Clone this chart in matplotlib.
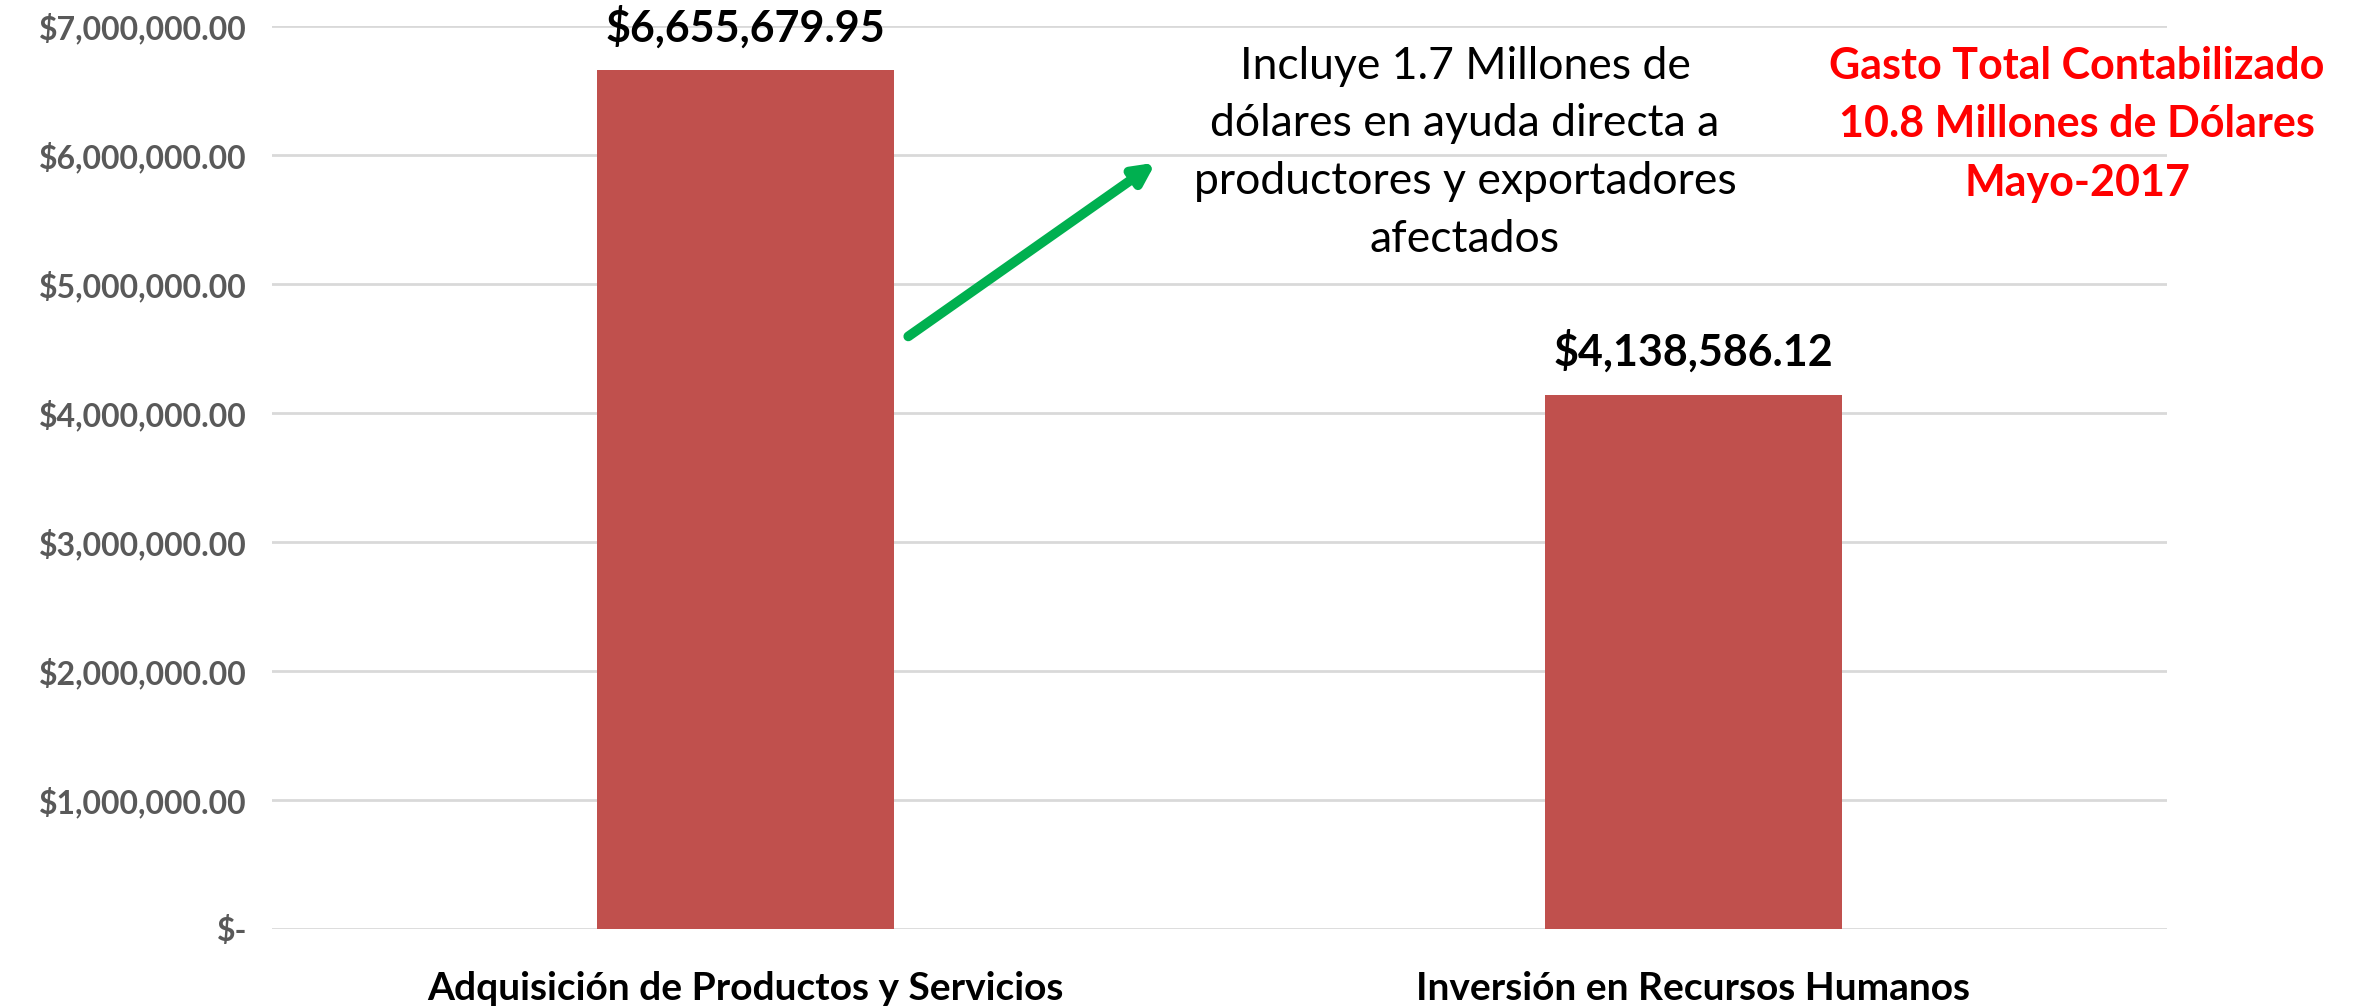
import matplotlib
matplotlib.use("Agg")
import matplotlib.pyplot as plt
from matplotlib.ticker import FuncFormatter

categories = ["Adquisición de Productos y Servicios", "Inversión en Recursos Humanos"]
values = [6655679.95, 4138586.12]
value_labels = ["$6,655,679.95", "$4,138,586.12"]
yticks = [0, 1000000, 2000000, 3000000, 4000000, 5000000, 6000000, 7000000]

note_text = "Incluye 1.7 Millones de\ndólares en ayuda directa a\nproductores y exportadores\nafectados"
total_text = "Gasto Total Contabilizado\n10.8 Millones de Dólares\nMayo-2017"

plt.rcParams['font.family'] = ['Lato', 'DejaVu Sans']

W, H = 2368, 1006
fig = plt.figure(figsize=(W / 100, H / 100), dpi=100)
ax = fig.add_axes([272 / W, 1 - 929 / H, (2167 - 272) / W, (929 - 26) / H])

x = list(range(len(categories)))
bars = ax.bar(x, values, width=0.313, color="#C0504D", zorder=3)
ax.set_xlim(-0.5, 1.5)
ax.set_ylim(0, 7000000)
ax.set_yticks(yticks)

def fmt(v, pos):
    if v == 0:
        return "$-"
    return "${:,.2f}".format(v)

ax.yaxis.set_major_formatter(FuncFormatter(fmt))
ax.set_xticks(x)
ax.set_xticklabels(categories, fontsize=28, fontweight="bold", color="black")
ax.tick_params(axis="x", length=0, pad=30)
ax.tick_params(axis="y", length=0, pad=18, labelsize=23, labelcolor="#595959")
for lab in ax.get_yticklabels():
    lab.set_fontweight("bold")

ax.grid(axis="y", color="#D9D9D9", linewidth=2, zorder=0)
for s in ax.spines.values():
    s.set_visible(False)

for xi, v, lab in zip(x, values, value_labels):
    ax.annotate(lab, (xi, v), xytext=(0, 16), textcoords="offset points",
                ha="center", va="bottom", fontsize=31, fontweight="bold", color="black")

fig.text(1465 / W, 1 - 46 / H, note_text, ha="center", va="top", fontsize=32,
         color="black", linespacing=1.5)
fig.text(2077 / W, 1 - 46 / H, total_text, ha="center", va="top", fontsize=31,
         fontweight="bold", color="#FF0000", linespacing=1.56)

fig.patches.append(matplotlib.patches.FancyArrowPatch(
    (906 / W, 1 - 338 / H), (1158 / W, 1 - 161 / H), transform=fig.transFigure,
    arrowstyle="-|>,head_length=12,head_width=6", mutation_scale=1,
    color="#00B050", linewidth=7))

fig.savefig("out.png", dpi=100)
